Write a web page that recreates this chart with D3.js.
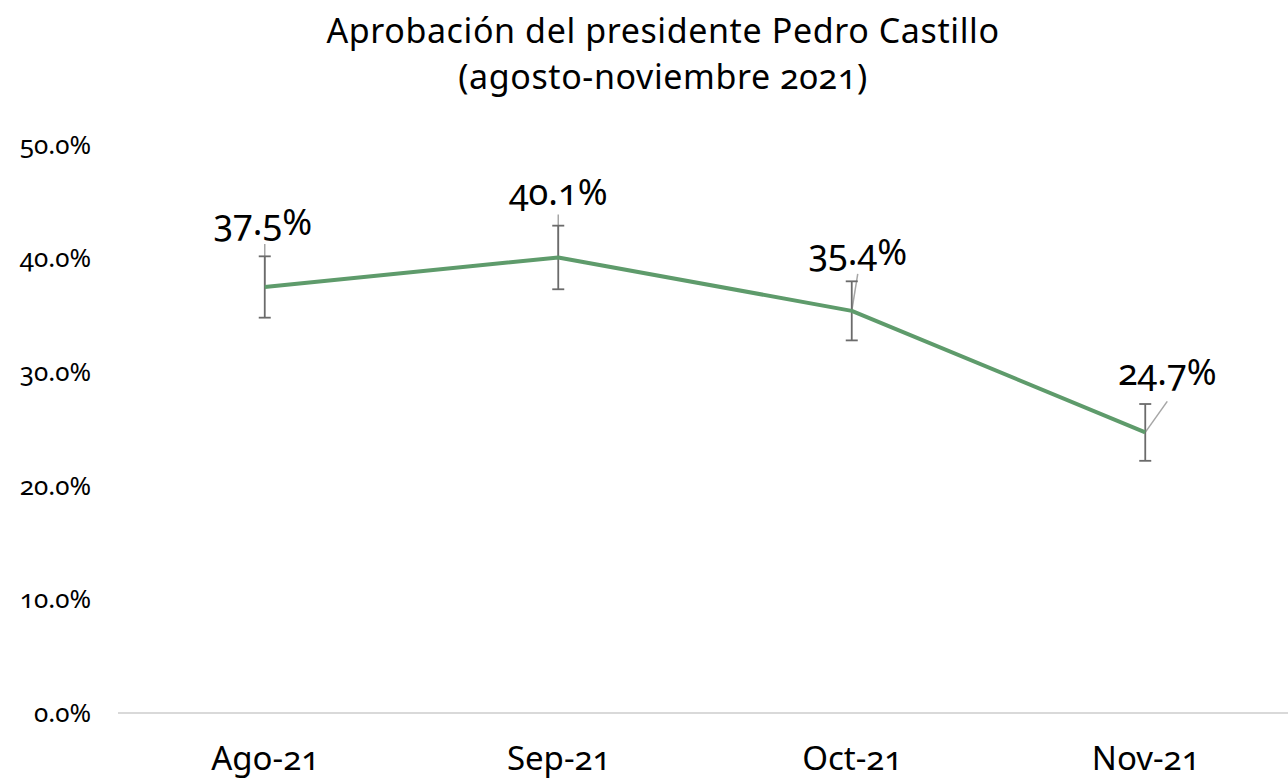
<!DOCTYPE html>
<meta charset="utf-8">
<style>
body { margin: 0; background: #fff; }
svg text { font-family: "Noto Sans", "Open Sans", sans-serif; fill: #000; }
.onum { font-variant-numeric: oldstyle-nums; font-feature-settings: "onum" 1; }
</style>
<svg width="1288" height="782"></svg>
<script src="https://d3js.org/d3.v7.min.js"></script>
<script>

// datos
var meses = ["Ago-21", "Sep-21", "Oct-21", "Nov-21"];
var aprobacion = [37.5, 40.1, 35.4, 24.7];
var margenError = [2.7, 2.8, 2.6, 2.5];
var yTicks = [0, 10, 20, 30, 40, 50];

// desplazamiento de etiquetas (como en Excel)
var etiquetaDx = [-2, 0, 6, 22];
var etiquetaDy = [-52, -52, -46, -47];

var svg = d3.select("svg"),
    width = +svg.attr("width"),
    height = +svg.attr("height");

var x = d3.scalePoint()
    .domain(meses)
    .range([118, 1292])
    .padding(0.5);

var y = d3.scaleLinear()
    .domain([0, 50])
    .range([713, 145]);

// titulo
svg.append("text")
    .attr("x", 663).attr("y", 43)
    .attr("text-anchor", "middle")
    .style("font-size", "34px")
    .style("letter-spacing", "0.6px")
    .text("Aprobación del presidente Pedro Castillo");
svg.append("text")
    .attr("x", 663).attr("y", 89)
    .attr("text-anchor", "middle")
    .attr("class", "onum")
    .style("font-size", "34px")
    .style("letter-spacing", "0.6px")
    .text("(agosto-noviembre 2021)");

// eje y
var yAxis = svg.append("g")
    .attr("transform", "translate(91,0)")
    .call(d3.axisLeft(y).tickValues(yTicks).tickSize(0).tickPadding(0)
      .tickFormat(function(d) { return d.toFixed(1) + "%"; }));
yAxis.select(".domain").remove();
yAxis.selectAll("text")
    .attr("class", "onum")
    .style("font-size", "26px")
    .style("font-family", "'Noto Sans', sans-serif");

// linea base
svg.append("line")
    .attr("x1", 118).attr("x2", 1288)
    .attr("y1", y(0)).attr("y2", y(0))
    .attr("stroke", "#d9d9d9")
    .attr("stroke-width", 2);

// eje x
var xAxis = svg.append("g")
    .attr("transform", "translate(0," + y(0) + ")")
    .call(d3.axisBottom(x).tickSize(0).tickPadding(34));
xAxis.select(".domain").remove();
xAxis.selectAll("text")
    .attr("class", "onum")
    .style("font-size", "33px")
    .style("font-family", "'Noto Sans', sans-serif");

var datos = meses.map(function(m, i) {
  return { mes: m, v: aprobacion[i], e: margenError[i], dx: etiquetaDx[i], dy: etiquetaDy[i] };
});

// lineas guia de etiquetas
svg.append("g").selectAll("line")
  .data(datos)
  .enter().append("line")
    .attr("x1", function(d) { return x(d.mes); })
    .attr("y1", function(d) { return y(d.v); })
    .attr("x2", function(d) { return x(d.mes) + (d.dx > 3 ? d.dx : 0); })
    .attr("y2", function(d) { return y(d.v) + d.dy + (d.dx > 10 ? 16 : 9); })
    .attr("stroke", "#a6a6a6")
    .attr("stroke-width", 1.5);

// barras de error
var eb = svg.append("g").selectAll("g")
  .data(datos)
  .enter().append("g")
    .attr("stroke", "#6b6b6b")
    .attr("stroke-width", 1.8);
eb.append("line")
    .attr("x1", function(d) { return x(d.mes); })
    .attr("x2", function(d) { return x(d.mes); })
    .attr("y1", function(d) { return y(d.v - d.e); })
    .attr("y2", function(d) { return y(d.v + d.e); });
[-1, 1].forEach(function(s) {
  eb.append("line")
      .attr("x1", function(d) { return x(d.mes) - 6; })
      .attr("x2", function(d) { return x(d.mes) + 6; })
      .attr("y1", function(d) { return y(d.v + s * d.e); })
      .attr("y2", function(d) { return y(d.v + s * d.e); });
});

// linea
svg.append("path")
    .datum(datos)
    .attr("fill", "none")
    .attr("stroke", "#5e9b6b")
    .attr("stroke-width", 4)
    .attr("stroke-linejoin", "round")
    .attr("d", d3.line()
      .x(function(d) { return x(d.mes); })
      .y(function(d) { return y(d.v); }));

// etiquetas
svg.append("g").selectAll("text")
  .data(datos)
  .enter().append("text")
    .attr("class", "onum")
    .attr("x", function(d) { return x(d.mes) + d.dx; })
    .attr("y", function(d) { return y(d.v) + d.dy; })
    .attr("text-anchor", "middle")
    .style("font-size", "36px")
    .text(function(d) { return d.v.toFixed(1) + "%"; });

</script>
